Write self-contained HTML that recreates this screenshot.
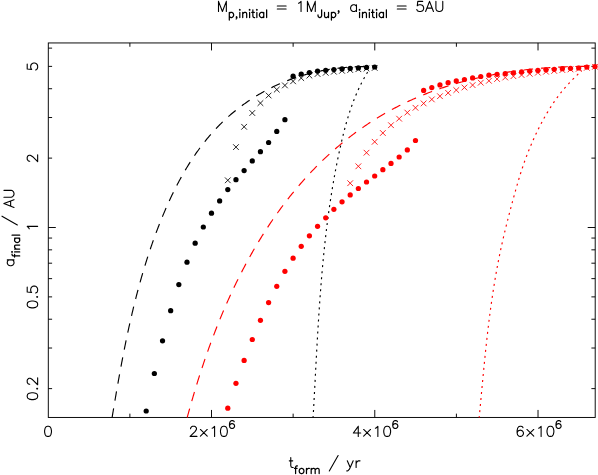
<!DOCTYPE html>
<html><head><meta charset="utf-8"><title>plot</title>
<style>html,body{margin:0;padding:0;background:#fff;overflow:hidden;font-family:"Liberation Sans",sans-serif}svg{display:block}.t{font-family:"Liberation Sans",sans-serif;font-size:14px;fill:#000;fill-opacity:0}</style></head><body>
<svg width="598" height="475" viewBox="0 0 598 475" role="img" aria-label="a_final / AU versus t_form / yr">
<rect x="0" y="0" width="598" height="475" fill="#fff"/>
<g stroke="#000" fill="none" stroke-width="0.95">
<rect x="48.3" y="42.95" width="546.9000000000001" height="374.5"/>
<path d="M129.88 417.45V413.65M129.88 42.95V46.75 M211.51 417.45V409.95M211.51 42.95V50.45 M293.14 417.45V413.65M293.14 42.95V46.75 M374.77 417.45V409.95M374.77 42.95V50.45 M456.40 417.45V413.65M456.40 42.95V46.75 M538.03 417.45V409.95M538.03 42.95V50.45 M48.3 388.61H52.099999999999994M595.2 388.61H591.4000000000001 M48.3 348.02H52.099999999999994M595.2 348.02H591.4000000000001 M48.3 319.23H52.099999999999994M595.2 319.23H591.4000000000001 M48.3 296.89H52.099999999999994M595.2 296.89H591.4000000000001 M48.3 278.64H52.099999999999994M595.2 278.64H591.4000000000001 M48.3 263.20H52.099999999999994M595.2 263.20H591.4000000000001 M48.3 249.84H52.099999999999994M595.2 249.84H591.4000000000001 M48.3 238.05H52.099999999999994M595.2 238.05H591.4000000000001 M48.3 227.50H55.8M595.2 227.50H587.7 M48.3 158.11H52.099999999999994M595.2 158.11H591.4000000000001 M48.3 117.52H52.099999999999994M595.2 117.52H591.4000000000001 M48.3 88.73H52.099999999999994M595.2 88.73H591.4000000000001 M48.3 66.39H52.099999999999994M595.2 66.39H591.4000000000001 M48.3 48.14H52.099999999999994M595.2 48.14H591.4000000000001" stroke-width="0.95"/>
</g>
<g fill="none" stroke-width="1.15" stroke-linecap="butt">
<path d="M112.10 417.50 L112.30 416.29 L112.50 415.09 L112.70 413.89 L112.90 412.68 L113.11 411.48 L113.31 410.27 L113.51 409.07 L113.71 407.86 L113.92 406.66 L114.12 405.46 L114.32 404.25 L114.53 403.05 L114.73 401.84 L114.94 400.64 L115.14 399.44 L115.35 398.23 L115.55 397.03 L115.76 395.83 L115.97 394.63 L116.17 393.42 L116.38 392.22 L116.59 391.02 L116.80 389.82 L117.01 388.62 L117.22 387.41 L117.43 386.21 L117.64 385.01 L117.85 383.81 L118.07 382.61 L118.28 381.41 L118.50 380.21 L118.71 379.01 L118.93 377.81 L119.14 376.61 L119.36 375.41 L119.58 374.21 L119.80 373.01 L120.02 371.81 L120.24 370.61 L120.46 369.41 L120.68 368.22 L120.90 367.02 L121.12 365.82 L121.35 364.62 L121.57 363.42 L121.80 362.23 L122.03 361.03 L122.26 359.83 L122.49 358.64 L122.72 357.44 L122.95 356.25 L123.18 355.05 L123.41 353.85 L123.65 352.66 L123.88 351.46 L124.12 350.27 L124.36 349.08 L124.60 347.88 L124.84 346.69 L125.08 345.49 L125.32 344.30 L125.56 343.11 L125.81 341.92 L126.05 340.72 L126.30 339.53 L126.55 338.34 L126.80 337.15 L127.05 335.96 L127.30 334.77 L127.56 333.58 L127.81 332.39 L128.07 331.20 L128.32 330.01 L128.58 328.82 L128.84 327.63 L129.11 326.44 L129.37 325.26 L129.63 324.07 L129.90 322.88 L130.17 321.69 L130.44 320.51 L130.71 319.32 L130.98 318.14 L131.25 316.95 L131.53 315.77 L131.81 314.58 L132.08 313.40 L132.36 312.21 L132.65 311.03 L132.93 309.85 L133.21 308.67 L133.50 307.48 L133.79 306.30 L134.08 305.12 L134.37 303.94 L134.66 302.76 L134.96 301.58 L135.26 300.40 L135.56 299.22 L135.86 298.04 L136.16 296.86 L136.46 295.68 L136.77 294.51 L137.08 293.33 L137.39 292.15 L137.70 290.98 L138.01 289.80 L138.33 288.63 L138.65 287.45 L138.97 286.28 L139.29 285.10 L139.61 283.93 L139.94 282.76 L140.27 281.58 L140.60 280.41 L140.93 279.24 L141.26 278.07 L141.60 276.90 L141.94 275.73 L142.28 274.56 L142.62 273.39 L142.96 272.22 L143.31 271.05 L143.66 269.89 L144.01 268.72 L144.36 267.55 L144.72 266.39 L145.08 265.22 L145.44 264.05 L145.80 262.89 L146.16 261.73 L146.53 260.56 L146.90 259.40 L147.27 258.24 L147.65 257.08 L148.02 255.91 L148.40 254.75 L148.78 253.59 L149.17 252.43 L149.56 251.28 L149.94 250.12 L150.34 248.96 L150.73 247.80 L151.13 246.65 L151.52 245.49 L151.93 244.33 L152.33 243.18 L152.74 242.02 L153.15 240.87 L153.56 239.72 L153.97 238.56 L154.39 237.41 L154.81 236.26 L155.23 235.11 L155.66 233.96 L156.09 232.81 L156.52 231.66 L156.95 230.51 L157.39 229.37 L157.83 228.22 L158.27 227.07 L158.71 225.93 L159.16 224.78 L159.61 223.64 L160.06 222.49 L160.52 221.35 L160.98 220.21 L161.44 219.07 L161.91 217.93 L162.37 216.79 L162.84 215.65 L163.32 214.51 L163.80 213.37 L164.28 212.24 L164.76 211.10 L165.25 209.97 L165.74 208.84 L166.23 207.71 L166.73 206.58 L167.23 205.45 L167.73 204.32 L168.24 203.20 L168.75 202.08 L169.26 200.95 L169.78 199.83 L170.30 198.72 L170.82 197.60 L171.35 196.49 L171.88 195.37 L172.41 194.26 L172.95 193.15 L173.49 192.05 L174.04 190.94 L174.58 189.84 L175.14 188.74 L175.69 187.64 L176.25 186.54 L176.82 185.45 L177.38 184.36 L177.96 183.27 L178.53 182.18 L179.11 181.10 L179.69 180.02 L180.28 178.94 L180.87 177.86 L181.47 176.79 L182.07 175.72 L182.67 174.65 L183.28 173.58 L183.89 172.52 L184.51 171.46 L185.12 170.40 L185.75 169.35 L186.38 168.30 L187.01 167.25 L187.65 166.21 L188.29 165.17 L188.93 164.13 L189.58 163.10 L190.24 162.07 L190.90 161.04 L191.56 160.01 L192.23 158.99 L192.90 157.98 L193.58 156.96 L194.26 155.95 L194.94 154.95 L195.63 153.95 L196.33 152.95 L197.03 151.95 L197.73 150.96 L198.44 149.98 L199.16 148.99 L199.88 148.01 L200.60 147.04 L201.33 146.07 L202.06 145.10 L202.80 144.14 L203.55 143.18 L204.29 142.23 L205.05 141.28 L205.81 140.34 L206.57 139.40 L207.34 138.46 L208.11 137.53 L208.89 136.61 L209.67 135.68 L210.46 134.77 L211.26 133.86 L212.06 132.95 L212.86 132.05 L213.67 131.15 L214.49 130.26 L215.31 129.37 L216.13 128.49 L216.97 127.61 L217.80 126.74 L218.64 125.87 L219.49 125.01 L220.35 124.16 L221.21 123.31 L222.07 122.46 L222.94 121.62 L223.82 120.79 L224.70 119.96 L225.58 119.14 L226.47 118.32 L227.37 117.51 L228.27 116.70 L229.18 115.90 L230.09 115.10 L231.01 114.31 L231.93 113.53 L232.86 112.75 L233.79 111.98 L234.73 111.21 L235.67 110.45 L236.62 109.70 L237.57 108.95 L238.53 108.21 L239.49 107.47 L240.46 106.74 L241.43 106.01 L242.40 105.29 L243.38 104.58 L244.37 103.87 L245.36 103.17 L246.35 102.47 L247.35 101.78 L248.35 101.10 L249.36 100.42 L250.37 99.75 L251.39 99.09 L252.41 98.43 L253.43 97.78 L254.46 97.13 L255.49 96.49 L256.53 95.86 L257.57 95.23 L258.61 94.61 L259.66 93.99 L260.71 93.39 L261.77 92.79 L262.83 92.19 L263.89 91.60 L264.96 91.02 L266.03 90.44 L267.10 89.88 L268.18 89.31 L269.26 88.76 L270.34 88.21 L271.43 87.67 L272.52 87.13 L273.62 86.60 L274.72 86.08 L275.82 85.56 L276.93 85.05 L278.03 84.55 L279.15 84.06 L280.26 83.57 L281.38 83.09 L282.50 82.61 L283.62 82.15 L284.75 81.69 L285.88 81.23 L287.01 80.79 L288.15 80.35 L289.28 79.91 L290.43 79.49 L291.57 79.07 L292.72 78.66 L293.86 78.26 L295.02 77.86 L296.17 77.47 L297.33 77.09 L298.49 76.71 L299.65 76.34 L300.81 75.98 L301.98 75.63 L303.15 75.28 L304.32 74.94 L305.49 74.61 L306.67 74.28 L307.84 73.96 L309.02 73.65 L310.20 73.34 L311.39 73.04 L312.57 72.75 L313.76 72.47 L314.95 72.19 L316.14 71.92 L317.33 71.66 L318.53 71.40 L319.73 71.15 L320.92 70.90 L322.12 70.67 L323.33 70.44 L324.53 70.21 L325.73 70.00 L326.94 69.79 L328.15 69.59 L329.36 69.39 L330.57 69.20 L331.78 69.02 L332.99 68.84 L334.21 68.67 L335.42 68.51 L336.64 68.36 L337.86 68.21 L339.08 68.07 L340.29 67.93 L341.52 67.80 L342.74 67.68 L343.96 67.56 L345.18 67.46 L346.41 67.35 L347.63 67.26 L348.86 67.17 L350.09 67.09 L351.31 67.01 L352.54 66.94 L353.77 66.88 L355.00 66.82 L356.23 66.77 L357.46 66.73 L358.69 66.69 L359.92 66.66 L361.15 66.64 L362.38 66.62 L363.61 66.61 L364.84 66.61 L366.08 66.61 L367.31 66.62 L368.54 66.63 L369.77 66.65 L371.01 66.68 L372.24 66.71 L373.47 66.76 L374.70 66.80" stroke="#000" stroke-dasharray="9.5 7.8" stroke-dashoffset="0.25"/>
<path d="M187.20 417.50 L187.58 416.10 L187.96 414.69 L188.35 413.29 L188.73 411.89 L189.12 410.48 L189.52 409.08 L189.91 407.67 L190.31 406.27 L190.70 404.86 L191.11 403.45 L191.51 402.05 L191.91 400.64 L192.32 399.23 L192.73 397.83 L193.14 396.42 L193.56 395.01 L193.98 393.61 L194.39 392.20 L194.82 390.79 L195.24 389.39 L195.67 387.98 L196.10 386.57 L196.53 385.16 L196.96 383.76 L197.40 382.35 L197.84 380.94 L198.28 379.54 L198.72 378.13 L199.17 376.72 L199.62 375.32 L200.07 373.91 L200.53 372.51 L200.98 371.10 L201.44 369.69 L201.91 368.29 L202.37 366.89 L202.84 365.48 L203.31 364.08 L203.78 362.67 L204.26 361.27 L204.73 359.87 L205.22 358.47 L205.70 357.07 L206.19 355.67 L206.67 354.27 L207.17 352.87 L207.66 351.47 L208.16 350.07 L208.66 348.67 L209.16 347.27 L209.67 345.88 L210.18 344.48 L210.69 343.09 L211.20 341.69 L211.72 340.30 L212.24 338.91 L212.76 337.52 L213.29 336.13 L213.82 334.74 L214.35 333.35 L214.88 331.96 L215.42 330.57 L215.96 329.19 L216.51 327.80 L217.05 326.42 L217.60 325.04 L218.16 323.65 L218.71 322.27 L219.27 320.90 L219.83 319.52 L220.40 318.14 L220.97 316.76 L221.54 315.39 L222.11 314.02 L222.69 312.64 L223.27 311.27 L223.86 309.90 L224.44 308.54 L225.03 307.17 L225.63 305.80 L226.22 304.44 L226.82 303.08 L227.43 301.72 L228.03 300.36 L228.64 299.00 L229.26 297.64 L229.87 296.29 L230.49 294.94 L231.11 293.58 L231.74 292.23 L232.37 290.89 L233.00 289.54 L233.64 288.19 L234.28 286.85 L234.92 285.51 L235.57 284.17 L236.22 282.83 L236.87 281.50 L237.53 280.16 L238.19 278.83 L238.85 277.50 L239.52 276.17 L240.19 274.84 L240.87 273.52 L241.54 272.20 L242.23 270.88 L242.91 269.56 L243.60 268.24 L244.29 266.93 L244.99 265.61 L245.69 264.30 L246.39 263.00 L247.10 261.69 L247.81 260.39 L248.52 259.09 L249.24 257.79 L249.96 256.49 L250.68 255.20 L251.41 253.90 L252.15 252.61 L252.88 251.33 L253.62 250.04 L254.37 248.76 L255.11 247.48 L255.87 246.20 L256.62 244.93 L257.38 243.65 L258.14 242.38 L258.91 241.12 L259.68 239.85 L260.45 238.59 L261.23 237.33 L262.01 236.07 L262.80 234.82 L263.59 233.56 L264.38 232.32 L265.18 231.07 L265.98 229.83 L266.79 228.59 L267.60 227.35 L268.41 226.11 L269.23 224.88 L270.05 223.65 L270.88 222.43 L271.71 221.20 L272.54 219.98 L273.38 218.76 L274.22 217.55 L275.07 216.34 L275.92 215.13 L276.78 213.92 L277.63 212.72 L278.50 211.52 L279.36 210.33 L280.24 209.14 L281.11 207.95 L281.99 206.76 L282.88 205.58 L283.76 204.40 L284.66 203.22 L285.55 202.05 L286.45 200.88 L287.36 199.71 L288.27 198.55 L289.18 197.39 L290.10 196.23 L291.02 195.08 L291.95 193.93 L292.88 192.79 L293.82 191.64 L294.76 190.51 L295.70 189.37 L296.65 188.24 L297.60 187.11 L298.56 185.99 L299.52 184.87 L300.49 183.75 L301.46 182.64 L302.44 181.53 L303.42 180.42 L304.40 179.32 L305.39 178.22 L306.39 177.13 L307.38 176.04 L308.39 174.96 L309.39 173.87 L310.40 172.80 L311.42 171.72 L312.44 170.65 L313.46 169.59 L314.49 168.53 L315.53 167.47 L316.56 166.42 L317.61 165.37 L318.65 164.33 L319.70 163.29 L320.76 162.25 L321.82 161.22 L322.88 160.20 L323.95 159.17 L325.02 158.16 L326.10 157.15 L327.18 156.14 L328.26 155.14 L329.35 154.14 L330.44 153.15 L331.54 152.16 L332.64 151.17 L333.75 150.20 L334.86 149.22 L335.98 148.25 L337.09 147.29 L338.22 146.33 L339.35 145.38 L340.48 144.43 L341.61 143.49 L342.75 142.55 L343.90 141.62 L345.04 140.69 L346.20 139.77 L347.35 138.85 L348.51 137.94 L349.68 137.03 L350.85 136.13 L352.02 135.24 L353.20 134.35 L354.38 133.46 L355.56 132.58 L356.75 131.71 L357.95 130.85 L359.14 129.98 L360.35 129.13 L361.55 128.28 L362.76 127.44 L363.97 126.60 L365.19 125.77 L366.41 124.94 L367.64 124.12 L368.87 123.31 L370.10 122.50 L371.34 121.70 L372.58 120.90 L373.83 120.11 L375.08 119.33 L376.33 118.55 L377.59 117.78 L378.85 117.01 L380.11 116.25 L381.38 115.50 L382.65 114.75 L383.93 114.01 L385.21 113.28 L386.49 112.55 L387.78 111.83 L389.07 111.11 L390.36 110.40 L391.66 109.70 L392.96 109.00 L394.26 108.31 L395.57 107.63 L396.88 106.95 L398.19 106.28 L399.51 105.61 L400.83 104.95 L402.15 104.30 L403.48 103.65 L404.81 103.01 L406.14 102.38 L407.47 101.75 L408.81 101.13 L410.15 100.51 L411.50 99.90 L412.84 99.30 L414.19 98.70 L415.55 98.11 L416.90 97.53 L418.26 96.95 L419.62 96.38 L420.98 95.81 L422.35 95.25 L423.72 94.70 L425.09 94.15 L426.46 93.61 L427.84 93.08 L429.22 92.55 L430.60 92.03 L431.98 91.51 L433.37 91.00 L434.76 90.50 L436.15 90.00 L437.54 89.50 L438.94 89.02 L440.34 88.54 L441.74 88.06 L443.14 87.59 L444.54 87.13 L445.95 86.67 L447.36 86.22 L448.77 85.77 L450.18 85.33 L451.60 84.90 L453.01 84.47 L454.43 84.05 L455.85 83.63 L457.28 83.22 L458.70 82.81 L460.13 82.41 L461.56 82.02 L462.99 81.63 L464.42 81.24 L465.85 80.86 L467.28 80.49 L468.72 80.12 L470.16 79.76 L471.60 79.40 L473.04 79.05 L474.48 78.70 L475.93 78.36 L477.37 78.03 L478.82 77.70 L480.27 77.37 L481.72 77.05 L483.17 76.74 L484.62 76.43 L486.08 76.12 L487.53 75.83 L488.99 75.53 L490.45 75.24 L491.90 74.96 L493.36 74.68 L494.82 74.41 L496.29 74.14 L497.75 73.87 L499.21 73.62 L500.68 73.36 L502.14 73.11 L503.61 72.87 L505.08 72.63 L506.55 72.40 L508.01 72.17 L509.48 71.94 L510.95 71.72 L512.43 71.51 L513.90 71.30 L515.37 71.09 L516.84 70.89 L518.32 70.70 L519.79 70.50 L521.27 70.32 L522.74 70.14 L524.22 69.96 L525.69 69.78 L527.17 69.62 L528.65 69.45 L530.13 69.29 L531.60 69.14 L533.08 68.99 L534.56 68.84 L536.04 68.70 L537.52 68.56 L539.00 68.43 L540.48 68.30 L541.95 68.18 L543.43 68.06 L544.91 67.94 L546.39 67.83 L547.87 67.72 L549.35 67.62 L550.83 67.52 L552.31 67.43 L553.79 67.34 L555.26 67.25 L556.74 67.17 L558.22 67.09 L559.70 67.02 L561.18 66.95 L562.65 66.88 L564.13 66.82 L565.61 66.76 L567.08 66.71 L568.56 66.66 L570.03 66.61 L571.51 66.57 L572.98 66.53 L574.45 66.49 L575.93 66.46 L577.40 66.44 L578.87 66.41 L580.34 66.39 L581.81 66.38 L583.28 66.37 L584.75 66.36 L586.21 66.35 L587.68 66.35 L589.15 66.35 L590.61 66.36 L592.07 66.37 L593.54 66.38 L595.00 66.40" stroke="#f00" stroke-dasharray="9.5 7.8" stroke-dashoffset="0.25"/>
<path d="M313.10 417.50 L313.15 416.62 L313.20 415.74 L313.25 414.86 L313.30 413.97 L313.35 413.09 L313.40 412.21 L313.45 411.33 L313.50 410.45 L313.55 409.56 L313.60 408.68 L313.65 407.80 L313.70 406.91 L313.75 406.03 L313.79 405.15 L313.84 404.26 L313.89 403.38 L313.94 402.50 L313.99 401.61 L314.04 400.73 L314.08 399.84 L314.13 398.96 L314.18 398.08 L314.23 397.19 L314.27 396.31 L314.32 395.42 L314.37 394.54 L314.42 393.65 L314.46 392.76 L314.51 391.88 L314.56 390.99 L314.61 390.11 L314.65 389.22 L314.70 388.34 L314.75 387.45 L314.79 386.56 L314.84 385.68 L314.89 384.79 L314.93 383.90 L314.98 383.02 L315.03 382.13 L315.08 381.24 L315.12 380.35 L315.17 379.47 L315.22 378.58 L315.26 377.69 L315.31 376.80 L315.36 375.92 L315.40 375.03 L315.45 374.14 L315.50 373.25 L315.54 372.36 L315.59 371.47 L315.64 370.59 L315.69 369.70 L315.73 368.81 L315.78 367.92 L315.83 367.03 L315.87 366.14 L315.92 365.25 L315.97 364.36 L316.02 363.47 L316.06 362.58 L316.11 361.69 L316.16 360.80 L316.21 359.91 L316.26 359.02 L316.30 358.13 L316.35 357.24 L316.40 356.35 L316.45 355.46 L316.50 354.57 L316.55 353.68 L316.60 352.79 L316.64 351.90 L316.69 351.01 L316.74 350.12 L316.79 349.23 L316.84 348.34 L316.89 347.45 L316.94 346.56 L316.99 345.67 L317.04 344.78 L317.09 343.89 L317.14 342.99 L317.19 342.10 L317.24 341.21 L317.29 340.32 L317.35 339.43 L317.40 338.54 L317.45 337.65 L317.50 336.76 L317.55 335.86 L317.60 334.97 L317.66 334.08 L317.71 333.19 L317.76 332.30 L317.81 331.41 L317.87 330.51 L317.92 329.62 L317.98 328.73 L318.03 327.84 L318.08 326.95 L318.14 326.05 L318.19 325.16 L318.25 324.27 L318.30 323.38 L318.36 322.49 L318.41 321.59 L318.47 320.70 L318.53 319.81 L318.58 318.92 L318.64 318.03 L318.70 317.13 L318.76 316.24 L318.81 315.35 L318.87 314.46 L318.93 313.56 L318.99 312.67 L319.05 311.78 L319.11 310.89 L319.17 310.00 L319.23 309.10 L319.29 308.21 L319.35 307.32 L319.41 306.43 L319.47 305.53 L319.53 304.64 L319.60 303.75 L319.66 302.86 L319.72 301.97 L319.78 301.07 L319.85 300.18 L319.91 299.29 L319.98 298.40 L320.04 297.50 L320.11 296.61 L320.17 295.72 L320.24 294.83 L320.30 293.94 L320.37 293.04 L320.44 292.15 L320.51 291.26 L320.57 290.37 L320.64 289.48 L320.71 288.58 L320.78 287.69 L320.85 286.80 L320.92 285.91 L320.99 285.02 L321.06 284.13 L321.14 283.23 L321.21 282.34 L321.28 281.45 L321.35 280.56 L321.43 279.67 L321.50 278.78 L321.57 277.89 L321.65 276.99 L321.73 276.10 L321.80 275.21 L321.88 274.32 L321.95 273.43 L322.03 272.54 L322.11 271.65 L322.19 270.76 L322.27 269.87 L322.35 268.98 L322.43 268.08 L322.51 267.19 L322.59 266.30 L322.67 265.41 L322.75 264.52 L322.84 263.63 L322.92 262.74 L323.00 261.85 L323.09 260.96 L323.17 260.07 L323.26 259.18 L323.34 258.29 L323.43 257.40 L323.52 256.51 L323.61 255.62 L323.69 254.73 L323.78 253.84 L323.87 252.96 L323.96 252.07 L324.05 251.18 L324.15 250.29 L324.24 249.40 L324.33 248.51 L324.42 247.62 L324.52 246.73 L324.61 245.85 L324.71 244.96 L324.80 244.07 L324.90 243.18 L325.00 242.29 L325.09 241.40 L325.19 240.52 L325.29 239.63 L325.39 238.74 L325.49 237.85 L325.59 236.97 L325.70 236.08 L325.80 235.19 L325.90 234.31 L326.01 233.42 L326.11 232.53 L326.22 231.65 L326.32 230.76 L326.43 229.87 L326.54 228.99 L326.64 228.10 L326.75 227.21 L326.86 226.33 L326.97 225.44 L327.08 224.56 L327.20 223.67 L327.31 222.79 L327.42 221.90 L327.54 221.02 L327.65 220.13 L327.77 219.25 L327.88 218.36 L328.00 217.48 L328.12 216.60 L328.24 215.71 L328.36 214.83 L328.48 213.94 L328.60 213.06 L328.72 212.18 L328.84 211.29 L328.97 210.41 L329.09 209.53 L329.21 208.65 L329.34 207.76 L329.47 206.88 L329.60 206.00 L329.72 205.12 L329.85 204.24 L329.98 203.35 L330.11 202.47 L330.25 201.59 L330.38 200.71 L330.51 199.83 L330.65 198.95 L330.78 198.07 L330.92 197.19 L331.05 196.31 L331.19 195.43 L331.33 194.55 L331.47 193.67 L331.61 192.79 L331.75 191.91 L331.89 191.03 L332.04 190.15 L332.18 189.27 L332.33 188.40 L332.47 187.52 L332.62 186.64 L332.77 185.76 L332.92 184.89 L333.06 184.01 L333.22 183.13 L333.37 182.25 L333.52 181.38 L333.67 180.50 L333.83 179.62 L333.98 178.75 L334.14 177.87 L334.30 177.00 L334.45 176.12 L334.61 175.25 L334.77 174.37 L334.93 173.50 L335.10 172.62 L335.26 171.75 L335.42 170.88 L335.59 170.00 L335.75 169.13 L335.92 168.26 L336.09 167.38 L336.26 166.51 L336.43 165.64 L336.60 164.77 L336.77 163.89 L336.94 163.02 L337.12 162.15 L337.29 161.28 L337.47 160.41 L337.65 159.54 L337.83 158.67 L338.01 157.80 L338.19 156.93 L338.37 156.06 L338.55 155.19 L338.73 154.32 L338.92 153.45 L339.11 152.58 L339.29 151.71 L339.48 150.84 L339.67 149.98 L339.86 149.11 L340.05 148.24 L340.24 147.38 L340.44 146.51 L340.63 145.64 L340.83 144.78 L341.02 143.91 L341.22 143.04 L341.42 142.18 L341.62 141.32 L341.83 140.45 L342.03 139.59 L342.24 138.72 L342.44 137.86 L342.65 137.00 L342.86 136.13 L343.07 135.27 L343.28 134.41 L343.50 133.55 L343.72 132.69 L343.93 131.83 L344.16 130.97 L344.38 130.11 L344.60 129.26 L344.83 128.40 L345.06 127.54 L345.29 126.69 L345.52 125.83 L345.75 124.98 L345.99 124.12 L346.23 123.27 L346.47 122.42 L346.72 121.56 L346.96 120.71 L347.21 119.86 L347.46 119.01 L347.72 118.16 L347.97 117.32 L348.23 116.47 L348.49 115.62 L348.76 114.78 L349.03 113.93 L349.30 113.09 L349.57 112.25 L349.84 111.41 L350.12 110.57 L350.40 109.73 L350.69 108.89 L350.98 108.05 L351.27 107.22 L351.56 106.38 L351.86 105.55 L352.16 104.71 L352.46 103.88 L352.77 103.05 L353.08 102.22 L353.40 101.39 L353.71 100.56 L354.04 99.74 L354.36 98.91 L354.69 98.09 L355.02 97.27 L355.36 96.45 L355.70 95.63 L356.04 94.81 L356.39 93.99 L356.74 93.17 L357.09 92.36 L357.45 91.55 L357.81 90.73 L358.18 89.92 L358.55 89.11 L358.93 88.31 L359.31 87.50 L359.69 86.70 L360.08 85.89 L360.47 85.09 L360.87 84.29 L361.27 83.49 L361.67 82.69 L362.08 81.90 L362.50 81.10 L362.92 80.31 L363.34 79.52 L363.77 78.73 L364.21 77.95 L364.64 77.16 L365.09 76.38 L365.53 75.59 L365.99 74.81 L366.44 74.03 L366.91 73.26 L367.38 72.48 L367.85 71.71 L368.33 70.94 L368.81 70.17 L369.30 69.40" stroke="#000" stroke-dasharray="2 4.05" stroke-dashoffset="0.6"/>
<path d="M479.20 417.50 L479.29 416.59 L479.37 415.68 L479.46 414.77 L479.55 413.86 L479.63 412.94 L479.72 412.03 L479.80 411.12 L479.89 410.21 L479.98 409.29 L480.06 408.38 L480.15 407.47 L480.23 406.55 L480.32 405.64 L480.40 404.73 L480.49 403.81 L480.57 402.90 L480.66 401.98 L480.74 401.07 L480.83 400.15 L480.92 399.24 L481.00 398.32 L481.09 397.40 L481.17 396.49 L481.26 395.57 L481.34 394.66 L481.43 393.74 L481.51 392.82 L481.60 391.90 L481.68 390.99 L481.77 390.07 L481.85 389.15 L481.94 388.23 L482.03 387.32 L482.11 386.40 L482.20 385.48 L482.28 384.56 L482.37 383.64 L482.46 382.72 L482.54 381.80 L482.63 380.88 L482.72 379.96 L482.81 379.04 L482.89 378.12 L482.98 377.21 L483.07 376.28 L483.16 375.36 L483.24 374.44 L483.33 373.52 L483.42 372.60 L483.51 371.68 L483.60 370.76 L483.69 369.84 L483.78 368.92 L483.87 368.00 L483.96 367.08 L484.05 366.16 L484.14 365.23 L484.23 364.31 L484.32 363.39 L484.41 362.47 L484.51 361.55 L484.60 360.63 L484.69 359.70 L484.78 358.78 L484.88 357.86 L484.97 356.94 L485.06 356.01 L485.16 355.09 L485.25 354.17 L485.35 353.25 L485.45 352.32 L485.54 351.40 L485.64 350.48 L485.74 349.56 L485.83 348.63 L485.93 347.71 L486.03 346.79 L486.13 345.86 L486.23 344.94 L486.33 344.02 L486.43 343.09 L486.53 342.17 L486.63 341.25 L486.73 340.33 L486.83 339.40 L486.94 338.48 L487.04 337.56 L487.15 336.63 L487.25 335.71 L487.35 334.79 L487.46 333.86 L487.57 332.94 L487.67 332.02 L487.78 331.09 L487.89 330.17 L488.00 329.25 L488.11 328.32 L488.22 327.40 L488.33 326.48 L488.44 325.55 L488.55 324.63 L488.66 323.71 L488.78 322.79 L488.89 321.86 L489.01 320.94 L489.12 320.02 L489.24 319.09 L489.35 318.17 L489.47 317.25 L489.59 316.33 L489.71 315.40 L489.83 314.48 L489.95 313.56 L490.07 312.64 L490.19 311.72 L490.32 310.79 L490.44 309.87 L490.56 308.95 L490.69 308.03 L490.82 307.11 L490.94 306.18 L491.07 305.26 L491.20 304.34 L491.33 303.42 L491.46 302.50 L491.59 301.58 L491.72 300.66 L491.85 299.74 L491.99 298.82 L492.12 297.90 L492.26 296.98 L492.39 296.05 L492.53 295.13 L492.67 294.21 L492.81 293.29 L492.95 292.38 L493.09 291.46 L493.23 290.54 L493.38 289.62 L493.52 288.70 L493.67 287.78 L493.81 286.86 L493.96 285.94 L494.11 285.02 L494.26 284.11 L494.41 283.19 L494.56 282.27 L494.71 281.35 L494.86 280.43 L495.02 279.52 L495.17 278.60 L495.33 277.68 L495.49 276.77 L495.65 275.85 L495.81 274.93 L495.97 274.02 L496.13 273.10 L496.29 272.19 L496.46 271.27 L496.62 270.36 L496.79 269.44 L496.96 268.53 L497.12 267.61 L497.29 266.70 L497.47 265.78 L497.64 264.87 L497.81 263.96 L497.99 263.04 L498.16 262.13 L498.34 261.22 L498.52 260.30 L498.70 259.39 L498.88 258.48 L499.06 257.57 L499.25 256.66 L499.43 255.75 L499.62 254.84 L499.80 253.92 L499.99 253.01 L500.18 252.10 L500.37 251.19 L500.57 250.29 L500.76 249.38 L500.96 248.47 L501.15 247.56 L501.35 246.65 L501.55 245.74 L501.75 244.84 L501.95 243.93 L502.15 243.02 L502.36 242.11 L502.56 241.21 L502.77 240.30 L502.98 239.40 L503.18 238.49 L503.39 237.59 L503.60 236.68 L503.82 235.78 L504.03 234.87 L504.24 233.97 L504.46 233.07 L504.67 232.16 L504.89 231.26 L505.11 230.36 L505.32 229.46 L505.54 228.56 L505.76 227.66 L505.99 226.76 L506.21 225.86 L506.43 224.96 L506.65 224.06 L506.88 223.16 L507.10 222.26 L507.33 221.36 L507.56 220.46 L507.79 219.57 L508.01 218.67 L508.24 217.77 L508.47 216.88 L508.70 215.98 L508.94 215.08 L509.17 214.19 L509.40 213.29 L509.63 212.40 L509.87 211.51 L510.10 210.61 L510.34 209.72 L510.57 208.83 L510.81 207.94 L511.05 207.05 L511.29 206.15 L511.52 205.26 L511.76 204.37 L512.00 203.48 L512.24 202.60 L512.48 201.71 L512.72 200.82 L512.96 199.93 L513.21 199.04 L513.45 198.16 L513.69 197.27 L513.93 196.38 L514.17 195.50 L514.42 194.61 L514.66 193.73 L514.91 192.85 L515.15 191.96 L515.40 191.08 L515.64 190.20 L515.89 189.32 L516.14 188.44 L516.39 187.56 L516.64 186.67 L516.89 185.80 L517.14 184.92 L517.39 184.04 L517.65 183.16 L517.90 182.28 L518.16 181.41 L518.42 180.53 L518.68 179.65 L518.94 178.78 L519.20 177.90 L519.47 177.03 L519.73 176.15 L520.00 175.28 L520.27 174.41 L520.55 173.54 L520.82 172.67 L521.10 171.80 L521.38 170.93 L521.66 170.06 L521.95 169.19 L522.23 168.32 L522.52 167.45 L522.81 166.58 L523.11 165.72 L523.41 164.85 L523.71 163.99 L524.01 163.12 L524.31 162.26 L524.62 161.39 L524.93 160.53 L525.25 159.67 L525.56 158.81 L525.88 157.94 L526.20 157.08 L526.53 156.22 L526.85 155.37 L527.18 154.51 L527.51 153.65 L527.85 152.79 L528.19 151.93 L528.53 151.08 L528.87 150.22 L529.21 149.37 L529.56 148.52 L529.91 147.66 L530.27 146.81 L530.62 145.96 L530.98 145.11 L531.35 144.26 L531.71 143.41 L532.08 142.56 L532.45 141.71 L532.82 140.86 L533.20 140.01 L533.58 139.17 L533.96 138.32 L534.34 137.48 L534.73 136.63 L535.12 135.79 L535.51 134.95 L535.91 134.10 L536.31 133.26 L536.71 132.42 L537.11 131.58 L537.52 130.74 L537.93 129.90 L538.34 129.07 L538.76 128.23 L539.18 127.40 L539.60 126.56 L540.02 125.73 L540.45 124.90 L540.88 124.07 L541.32 123.24 L541.75 122.41 L542.19 121.59 L542.64 120.76 L543.08 119.94 L543.53 119.12 L543.99 118.30 L544.44 117.49 L544.90 116.67 L545.37 115.86 L545.83 115.05 L546.30 114.24 L546.78 113.43 L547.25 112.63 L547.74 111.83 L548.22 111.03 L548.71 110.23 L549.20 109.43 L549.69 108.64 L550.19 107.85 L550.69 107.07 L551.20 106.28 L551.70 105.50 L552.22 104.72 L552.73 103.94 L553.25 103.17 L553.78 102.40 L554.30 101.64 L554.84 100.87 L555.37 100.11 L555.91 99.35 L556.45 98.60 L557.00 97.85 L557.55 97.10 L558.10 96.36 L558.66 95.62 L559.22 94.88 L559.79 94.15 L560.36 93.42 L560.94 92.70 L561.51 91.98 L562.10 91.26 L562.68 90.55 L563.27 89.84 L563.87 89.13 L564.47 88.43 L565.07 87.73 L565.67 87.04 L566.28 86.35 L566.90 85.66 L567.51 84.97 L568.13 84.29 L568.76 83.61 L569.38 82.94 L570.01 82.27 L570.64 81.60 L571.28 80.93 L571.92 80.27 L572.56 79.61 L573.20 78.95 L573.85 78.29 L574.50 77.64 L575.15 76.99 L575.81 76.34 L576.46 75.69 L577.12 75.05 L577.79 74.41 L578.45 73.77 L579.12 73.13 L579.78 72.50 L580.45 71.86 L581.13 71.23 L581.80 70.60" stroke="#f00" stroke-dasharray="2 4.05" stroke-dashoffset="0.6"/>
</g>
<g fill="#000">
<circle cx="146.20" cy="411.00" r="2.62"/>
<circle cx="154.36" cy="373.50" r="2.62"/>
<circle cx="162.52" cy="340.80" r="2.62"/>
<circle cx="170.68" cy="310.70" r="2.62"/>
<circle cx="178.84" cy="284.60" r="2.62"/>
<circle cx="187.00" cy="262.20" r="2.62"/>
<circle cx="195.16" cy="243.20" r="2.62"/>
<circle cx="203.32" cy="227.00" r="2.62"/>
<circle cx="211.48" cy="213.20" r="2.62"/>
<circle cx="219.64" cy="200.90" r="2.62"/>
<circle cx="227.80" cy="189.60" r="2.62"/>
<circle cx="235.96" cy="179.70" r="2.62"/>
<circle cx="244.12" cy="170.60" r="2.62"/>
<circle cx="252.28" cy="160.90" r="2.62"/>
<circle cx="260.44" cy="151.70" r="2.62"/>
<circle cx="268.60" cy="142.50" r="2.62"/>
<circle cx="276.76" cy="131.40" r="2.62"/>
<circle cx="284.92" cy="119.70" r="2.62"/>
<circle cx="293.08" cy="76.20" r="2.62"/>
<circle cx="301.24" cy="74.10" r="2.62"/>
<circle cx="309.40" cy="72.50" r="2.62"/>
<circle cx="317.56" cy="71.10" r="2.62"/>
<circle cx="325.72" cy="70.30" r="2.62"/>
<circle cx="333.88" cy="69.60" r="2.62"/>
<circle cx="342.04" cy="68.90" r="2.62"/>
<circle cx="350.20" cy="68.40" r="2.62"/>
<circle cx="358.36" cy="67.90" r="2.62"/>
<circle cx="366.52" cy="67.40" r="2.62"/>
<circle cx="374.68" cy="67.00" r="2.62"/>
</g>
<g fill="#f00">
<circle cx="227.80" cy="408.20" r="2.62"/>
<circle cx="235.96" cy="383.30" r="2.62"/>
<circle cx="244.12" cy="360.40" r="2.62"/>
<circle cx="252.28" cy="339.50" r="2.62"/>
<circle cx="260.44" cy="320.30" r="2.62"/>
<circle cx="268.60" cy="302.60" r="2.62"/>
<circle cx="276.76" cy="286.30" r="2.62"/>
<circle cx="284.92" cy="271.30" r="2.62"/>
<circle cx="293.08" cy="258.20" r="2.62"/>
<circle cx="301.24" cy="246.30" r="2.62"/>
<circle cx="309.40" cy="235.80" r="2.62"/>
<circle cx="317.56" cy="226.30" r="2.62"/>
<circle cx="325.72" cy="217.80" r="2.62"/>
<circle cx="333.88" cy="209.30" r="2.62"/>
<circle cx="342.04" cy="201.80" r="2.62"/>
<circle cx="350.20" cy="194.90" r="2.62"/>
<circle cx="358.36" cy="188.50" r="2.62"/>
<circle cx="366.52" cy="182.00" r="2.62"/>
<circle cx="374.68" cy="176.00" r="2.62"/>
<circle cx="382.84" cy="169.70" r="2.62"/>
<circle cx="391.00" cy="163.40" r="2.62"/>
<circle cx="399.16" cy="157.00" r="2.62"/>
<circle cx="407.32" cy="149.90" r="2.62"/>
<circle cx="415.48" cy="140.50" r="2.62"/>
<circle cx="423.64" cy="90.40" r="2.62"/>
<circle cx="431.80" cy="87.60" r="2.62"/>
<circle cx="439.96" cy="84.90" r="2.62"/>
<circle cx="448.12" cy="82.70" r="2.62"/>
<circle cx="456.28" cy="80.90" r="2.62"/>
<circle cx="464.44" cy="79.50" r="2.62"/>
<circle cx="472.60" cy="77.90" r="2.62"/>
<circle cx="480.76" cy="76.50" r="2.62"/>
<circle cx="488.92" cy="75.20" r="2.62"/>
<circle cx="497.08" cy="74.30" r="2.62"/>
<circle cx="505.24" cy="73.50" r="2.62"/>
<circle cx="513.40" cy="72.80" r="2.62"/>
<circle cx="521.56" cy="71.90" r="2.62"/>
<circle cx="529.72" cy="71.10" r="2.62"/>
<circle cx="537.88" cy="70.40" r="2.62"/>
<circle cx="546.04" cy="69.80" r="2.62"/>
<circle cx="554.20" cy="69.30" r="2.62"/>
<circle cx="562.36" cy="68.70" r="2.62"/>
<circle cx="570.52" cy="68.30" r="2.62"/>
<circle cx="578.68" cy="68.00" r="2.62"/>
<circle cx="586.84" cy="67.10" r="2.62"/>
<circle cx="595.00" cy="66.50" r="2.62"/>
</g>
<path d="M224.95 177.45L230.65 183.15M224.95 183.15L230.65 177.45 M233.11 144.25L238.81 149.95M233.11 149.95L238.81 144.25 M241.27 123.95L246.97 129.65M241.27 129.65L246.97 123.95 M249.43 110.15L255.13 115.85M249.43 115.85L255.13 110.15 M257.59 100.25L263.29 105.95M257.59 105.95L263.29 100.25 M265.75 92.65L271.45 98.35M265.75 98.35L271.45 92.65 M273.91 86.75L279.61 92.45M273.91 92.45L279.61 86.75 M282.07 82.55L287.77 88.25M282.07 88.25L287.77 82.55 M290.23 78.45L295.93 84.15M290.23 84.15L295.93 78.45 M298.39 75.25L304.09 80.95M298.39 80.95L304.09 75.25 M306.55 72.75L312.25 78.45M306.55 78.45L312.25 72.75 M314.71 71.15L320.41 76.85M314.71 76.85L320.41 71.15 M322.87 69.95L328.57 75.65M322.87 75.65L328.57 69.95 M331.03 68.85L336.73 74.55M331.03 74.55L336.73 68.85 M339.19 67.95L344.89 73.65M339.19 73.65L344.89 67.95 M347.35 67.15L353.05 72.85M347.35 72.85L353.05 67.15 M355.51 66.35L361.21 72.05M355.51 72.05L361.21 66.35 M363.67 65.75L369.37 71.45M363.67 71.45L369.37 65.75 M371.83 65.05L377.53 70.75M371.83 70.75L377.53 65.05" stroke="#000" stroke-width="0.85" fill="none"/>
<path d="M347.35 180.35L353.05 186.05M347.35 186.05L353.05 180.35 M355.51 163.45L361.21 169.15M355.51 169.15L361.21 163.45 M363.67 149.85L369.37 155.55M363.67 155.55L369.37 149.85 M371.83 138.95L377.53 144.65M371.83 144.65L377.53 138.95 M379.99 130.15L385.69 135.85M379.99 135.85L385.69 130.15 M388.15 122.35L393.85 128.05M388.15 128.05L393.85 122.35 M396.31 115.85L402.01 121.55M396.31 121.55L402.01 115.85 M404.47 109.75L410.17 115.45M404.47 115.45L410.17 109.75 M412.63 104.95L418.33 110.65M412.63 110.65L418.33 104.95 M420.79 100.55L426.49 106.25M420.79 106.25L426.49 100.55 M428.95 96.55L434.65 102.25M428.95 102.25L434.65 96.55 M437.11 93.35L442.81 99.05M437.11 99.05L442.81 93.35 M445.27 90.05L450.97 95.75M445.27 95.75L450.97 90.05 M453.43 87.25L459.13 92.95M453.43 92.95L459.13 87.25 M461.59 84.65L467.29 90.35M461.59 90.35L467.29 84.65 M469.75 82.25L475.45 87.95M469.75 87.95L475.45 82.25 M477.91 79.85L483.61 85.55M477.91 85.55L483.61 79.85 M486.07 77.95L491.77 83.65M486.07 83.65L491.77 77.95 M494.23 76.15L499.93 81.85M494.23 81.85L499.93 76.15 M502.39 74.65L508.09 80.35M502.39 80.35L508.09 74.65 M510.55 73.35L516.25 79.05M510.55 79.05L516.25 73.35 M518.71 72.15L524.41 77.85M518.71 77.85L524.41 72.15 M526.87 70.95L532.57 76.65M526.87 76.65L532.57 70.95 M535.03 69.85L540.73 75.55M535.03 75.55L540.73 69.85 M543.19 68.85L548.89 74.55M543.19 74.55L548.89 68.85 M551.35 68.05L557.05 73.75M551.35 73.75L557.05 68.05 M559.51 67.20L565.21 72.90M559.51 72.90L565.21 67.20 M567.67 66.55L573.37 72.25M567.67 72.25L573.37 66.55 M575.83 66.00L581.53 71.70M575.83 71.70L581.53 66.00 M583.99 64.95L589.69 70.65M583.99 70.65L589.69 64.95 M592.15 63.95L597.85 69.65M592.15 69.65L597.85 63.95" stroke="#f00" stroke-width="0.85" fill="none"/>
<g fill="none" stroke="#000" stroke-width="1.1" stroke-linecap="round" stroke-linejoin="round">
<path stroke-width="1.1" d="M218.50 1.42 L218.50 11.50 M218.50 1.42 L222.42 11.50 M226.34 1.42 L222.42 11.50 M226.34 1.42 L226.34 11.50"/>
<path stroke-width="1.25" d="M229.30 12.39 L229.30 20.05 M229.30 13.49 L230.03 12.76 L230.75 12.39 L231.84 12.39 L232.56 12.76 L233.29 13.49 L233.65 14.58 L233.65 15.31 L233.29 16.41 L232.56 17.14 L231.84 17.50 L230.75 17.50 L230.03 17.14 L229.30 16.41 M236.91 17.14 L236.55 17.50 L236.19 17.14 L236.55 16.77 L236.91 17.14 L236.91 17.86 L236.55 18.59 L236.19 18.96 M239.45 9.84 L239.82 10.20 L240.18 9.84 L239.82 9.47 L239.45 9.84 M239.82 12.39 L239.82 17.50 M242.72 12.39 L242.72 17.50 M242.72 13.85 L243.80 12.76 L244.53 12.39 L245.62 12.39 L246.34 12.76 L246.70 13.85 L246.70 17.50 M249.24 9.84 L249.61 10.20 L249.97 9.84 L249.61 9.47 L249.24 9.84 M249.61 12.39 L249.61 17.50 M252.87 9.84 L252.87 16.04 L253.23 17.14 L253.96 17.50 L254.68 17.50 M251.78 12.39 L254.32 12.39 M256.49 9.84 L256.86 10.20 L257.22 9.84 L256.86 9.47 L256.49 9.84 M256.86 12.39 L256.86 17.50 M263.75 12.39 L263.75 17.50 M263.75 13.49 L263.02 12.76 L262.30 12.39 L261.21 12.39 L260.48 12.76 L259.76 13.49 L259.40 14.58 L259.40 15.31 L259.76 16.41 L260.48 17.14 L261.21 17.50 L262.30 17.50 L263.02 17.14 L263.75 16.41 M266.65 9.84 L266.65 17.50"/>
<path stroke-width="1.1" d="M277.30 6.00 L286.12 6.00 M277.30 9.00 L286.12 9.00"/>
<path stroke-width="1.1" d="M298.60 3.34 L299.58 2.86 L301.05 1.42 L301.05 11.50 M307.42 1.42 L307.42 11.50 M307.42 1.42 L311.34 11.50 M315.26 1.42 L311.34 11.50 M315.26 1.42 L315.26 11.50"/>
<path stroke-width="1.25" d="M321.63 9.84 L321.63 15.68 L321.26 16.77 L320.90 17.14 L320.18 17.50 L319.45 17.50 L318.73 17.14 L318.36 16.77 L318.00 15.68 L318.00 14.95 M324.53 12.39 L324.53 16.04 L324.89 17.14 L325.61 17.50 L326.70 17.50 L327.43 17.14 L328.52 16.04 M328.52 12.39 L328.52 17.50 M331.42 12.39 L331.42 20.05 M331.42 13.49 L332.14 12.76 L332.87 12.39 L333.95 12.39 L334.68 12.76 L335.40 13.49 L335.77 14.58 L335.77 15.31 L335.40 16.41 L334.68 17.14 L333.95 17.50 L332.87 17.50 L332.14 17.14 L331.42 16.41"/>
<path stroke-width="1.1" d="M339.08 11.02 L338.59 11.50 L338.10 11.02 L338.59 10.54 L339.08 11.02 L339.08 11.98 L338.59 12.94 L338.10 13.42"/>
<path stroke-width="1.1" d="M356.48 4.78 L356.48 11.50 M356.48 6.22 L355.50 5.26 L354.52 4.78 L353.05 4.78 L352.07 5.26 L351.09 6.22 L350.60 7.66 L350.60 8.62 L351.09 10.06 L352.07 11.02 L353.05 11.50 L354.52 11.50 L355.50 11.02 L356.48 10.06"/>
<path stroke-width="1.25" d="M359.20 9.84 L359.56 10.20 L359.93 9.84 L359.56 9.47 L359.20 9.84 M359.56 12.39 L359.56 17.50 M362.46 12.39 L362.46 17.50 M362.46 13.85 L363.55 12.76 L364.28 12.39 L365.36 12.39 L366.09 12.76 L366.45 13.85 L366.45 17.50 M368.99 9.84 L369.35 10.20 L369.72 9.84 L369.35 9.47 L368.99 9.84 M369.35 12.39 L369.35 17.50 M372.62 9.84 L372.62 16.04 L372.98 17.14 L373.70 17.50 L374.43 17.50 M371.53 12.39 L374.07 12.39 M376.24 9.84 L376.60 10.20 L376.97 9.84 L376.60 9.47 L376.24 9.84 M376.60 12.39 L376.60 17.50 M383.49 12.39 L383.49 17.50 M383.49 13.49 L382.77 12.76 L382.04 12.39 L380.96 12.39 L380.23 12.76 L379.51 13.49 L379.14 14.58 L379.14 15.31 L379.51 16.41 L380.23 17.14 L380.96 17.50 L382.04 17.50 L382.77 17.14 L383.49 16.41 M386.39 9.84 L386.39 17.50"/>
<path stroke-width="1.1" d="M397.30 6.00 L406.12 6.00 M397.30 9.00 L406.12 9.00"/>
<path stroke-width="1.1" d="M422.68 1.42 L417.78 1.42 L417.29 5.74 L417.78 5.26 L419.25 4.78 L420.72 4.78 L422.19 5.26 L423.17 6.22 L423.66 7.66 L423.66 8.62 L423.17 10.06 L422.19 11.02 L420.72 11.50 L419.25 11.50 L417.78 11.02 L417.29 10.54 L416.80 9.58 M429.54 1.42 L425.62 11.50 M429.54 1.42 L433.46 11.50 M427.09 8.14 L431.99 8.14 M435.91 1.42 L435.91 8.62 L436.40 10.06 L437.38 11.02 L438.85 11.50 L439.83 11.50 L441.30 11.02 L442.28 10.06 L442.77 8.62 L442.77 1.42"/>
<path stroke-width="1.1" d="M290.77 457.47 L290.77 465.63 L291.26 467.07 L292.24 467.55 L293.22 467.55 M289.30 460.83 L292.73 460.83"/>
<path stroke-width="1.25" d="M297.40 465.89 L296.68 465.89 L295.95 466.25 L295.59 467.35 L295.59 473.55 M294.50 468.44 L297.04 468.44 M301.03 468.44 L300.30 468.81 L299.58 469.54 L299.21 470.63 L299.21 471.36 L299.58 472.46 L300.30 473.19 L301.03 473.55 L302.11 473.55 L302.84 473.19 L303.56 472.46 L303.93 471.36 L303.93 470.63 L303.56 469.54 L302.84 468.81 L302.11 468.44 L301.03 468.44 M306.47 468.44 L306.47 473.55 M306.47 470.63 L306.83 469.54 L307.55 468.81 L308.28 468.44 L309.37 468.44 M311.18 468.44 L311.18 473.55 M311.18 469.90 L312.27 468.81 L312.99 468.44 L314.08 468.44 L314.81 468.81 L315.17 469.90 L315.17 473.55 M315.17 469.90 L316.26 468.81 L316.98 468.44 L318.07 468.44 L318.79 468.81 L319.16 469.90 L319.16 473.55"/>
<path stroke-width="1.1" d="M338.12 455.55 L329.30 470.91"/>
<path stroke-width="1.1" d="M347.29 460.83 L350.23 467.55 M353.17 460.83 L350.23 467.55 L349.25 469.47 L348.27 470.43 L347.29 470.91 L346.80 470.91 M356.11 460.83 L356.11 467.55 M356.11 463.71 L356.60 462.27 L357.58 461.31 L358.56 460.83 L360.03 460.83"/>
<path stroke-width="1.1" d="M47.54 426.32 L46.07 426.80 L45.09 428.24 L44.60 430.64 L44.60 432.08 L45.09 434.48 L46.07 435.92 L47.54 436.40 L48.52 436.40 L49.99 435.92 L50.97 434.48 L51.46 432.08 L51.46 430.64 L50.97 428.24 L49.99 426.80 L48.52 426.32 L47.54 426.32"/>
<path stroke-width="1.1" d="M190.59 428.72 L190.59 428.24 L191.08 427.28 L191.57 426.80 L192.55 426.32 L194.51 426.32 L195.49 426.80 L195.98 427.28 L196.47 428.24 L196.47 429.20 L195.98 430.16 L195.00 431.60 L190.10 436.40 L196.96 436.40 M200.39 429.47 L207.25 436.19 M207.25 429.47 L200.39 436.19 M212.15 428.24 L213.13 427.76 L214.60 426.32 L214.60 436.40 M223.42 426.32 L221.95 426.80 L220.97 428.24 L220.48 430.64 L220.48 432.08 L220.97 434.48 L221.95 435.92 L223.42 436.40 L224.40 436.40 L225.87 435.92 L226.85 434.48 L227.34 432.08 L227.34 430.64 L226.85 428.24 L225.87 426.80 L224.40 426.32 L223.42 426.32"/>
<path stroke-width="1.15" d="M234.20 421.75 L233.81 421.01 L232.64 420.64 L231.85 420.64 L230.68 421.01 L229.89 422.13 L229.50 423.99 L229.50 425.85 L229.89 427.33 L230.68 428.08 L231.85 428.45 L232.24 428.45 L233.42 428.08 L234.20 427.33 L234.60 426.22 L234.60 425.85 L234.20 424.73 L233.42 423.99 L232.24 423.61 L231.85 423.61 L230.68 423.99 L229.89 424.73 L229.50 425.85"/>
<path stroke-width="1.1" d="M358.26 426.32 L353.36 433.04 L360.71 433.04 M358.26 426.32 L358.26 436.40 M363.65 429.47 L370.51 436.19 M370.51 429.47 L363.65 436.19 M375.41 428.24 L376.39 427.76 L377.86 426.32 L377.86 436.40 M386.68 426.32 L385.21 426.80 L384.23 428.24 L383.74 430.64 L383.74 432.08 L384.23 434.48 L385.21 435.92 L386.68 436.40 L387.66 436.40 L389.13 435.92 L390.11 434.48 L390.60 432.08 L390.60 430.64 L390.11 428.24 L389.13 426.80 L387.66 426.32 L386.68 426.32"/>
<path stroke-width="1.15" d="M397.46 421.75 L397.07 421.01 L395.90 420.64 L395.11 420.64 L393.94 421.01 L393.15 422.13 L392.76 423.99 L392.76 425.85 L393.15 427.33 L393.94 428.08 L395.11 428.45 L395.50 428.45 L396.68 428.08 L397.46 427.33 L397.86 426.22 L397.86 425.85 L397.46 424.73 L396.68 423.99 L395.50 423.61 L395.11 423.61 L393.94 423.99 L393.15 424.73 L392.76 425.85"/>
<path stroke-width="1.1" d="M522.99 427.76 L522.50 426.80 L521.03 426.32 L520.05 426.32 L518.58 426.80 L517.60 428.24 L517.11 430.64 L517.11 433.04 L517.60 434.96 L518.58 435.92 L520.05 436.40 L520.54 436.40 L522.01 435.92 L522.99 434.96 L523.48 433.52 L523.48 433.04 L522.99 431.60 L522.01 430.64 L520.54 430.16 L520.05 430.16 L518.58 430.64 L517.60 431.60 L517.11 433.04 M526.91 429.47 L533.77 436.19 M533.77 429.47 L526.91 436.19 M538.67 428.24 L539.65 427.76 L541.12 426.32 L541.12 436.40 M549.94 426.32 L548.47 426.80 L547.49 428.24 L547.00 430.64 L547.00 432.08 L547.49 434.48 L548.47 435.92 L549.94 436.40 L550.92 436.40 L552.39 435.92 L553.37 434.48 L553.86 432.08 L553.86 430.64 L553.37 428.24 L552.39 426.80 L550.92 426.32 L549.94 426.32"/>
<path stroke-width="1.15" d="M560.72 421.75 L560.33 421.01 L559.16 420.64 L558.37 420.64 L557.20 421.01 L556.41 422.13 L556.02 423.99 L556.02 425.85 L556.41 427.33 L557.20 428.08 L558.37 428.45 L558.76 428.45 L559.94 428.08 L560.72 427.33 L561.12 426.22 L561.12 425.85 L560.72 424.73 L559.94 423.99 L558.76 423.61 L558.37 423.61 L557.20 423.99 L556.41 424.73 L556.02 425.85"/>
<path stroke-width="1.1" transform="translate(37.65 401.09) rotate(-90)" d="M4.46 -10.44 L2.97 -9.94 L1.98 -8.45 L1.49 -5.96 L1.49 -4.47 L1.98 -1.99 L2.97 -0.50 L4.46 0.00 L5.45 0.00 L6.93 -0.50 L7.92 -1.99 L8.41 -4.47 L8.41 -5.96 L7.92 -8.45 L6.93 -9.94 L5.45 -10.44 L4.46 -10.44 M12.38 -0.99 L11.88 -0.50 L12.38 0.00 L12.87 -0.50 L12.38 -0.99 M16.83 -7.95 L16.83 -8.45 L17.32 -9.44 L17.82 -9.94 L18.81 -10.44 L20.79 -10.44 L21.78 -9.94 L22.28 -9.44 L22.77 -8.45 L22.77 -7.46 L22.28 -6.46 L21.29 -4.97 L16.34 0.00 L23.27 0.00"/>
<path stroke-width="1.1" transform="translate(37.65 309.36) rotate(-90)" d="M4.46 -10.44 L2.97 -9.94 L1.98 -8.45 L1.49 -5.96 L1.49 -4.47 L1.98 -1.99 L2.97 -0.50 L4.46 0.00 L5.45 0.00 L6.93 -0.50 L7.92 -1.99 L8.41 -4.47 L8.41 -5.96 L7.92 -8.45 L6.93 -9.94 L5.45 -10.44 L4.46 -10.44 M12.38 -0.99 L11.88 -0.50 L12.38 0.00 L12.87 -0.50 L12.38 -0.99 M22.28 -10.44 L17.32 -10.44 L16.83 -5.96 L17.32 -6.46 L18.81 -6.96 L20.30 -6.96 L21.78 -6.46 L22.77 -5.47 L23.27 -3.98 L23.27 -2.98 L22.77 -1.49 L21.78 -0.50 L20.30 0.00 L18.81 0.00 L17.32 -0.50 L16.83 -0.99 L16.34 -1.99"/>
<path stroke-width="1.1" transform="translate(37.65 231.81) rotate(-90)" d="M2.97 -8.45 L3.96 -8.95 L5.45 -10.44 L5.45 0.00"/>
<path stroke-width="1.1" transform="translate(37.65 163.16) rotate(-90)" d="M1.98 -7.95 L1.98 -8.45 L2.48 -9.44 L2.97 -9.94 L3.96 -10.44 L5.94 -10.44 L6.93 -9.94 L7.43 -9.44 L7.92 -8.45 L7.92 -7.46 L7.43 -6.46 L6.44 -4.97 L1.49 0.00 L8.41 0.00"/>
<path stroke-width="1.1" transform="translate(37.65 71.44) rotate(-90)" d="M7.43 -10.44 L2.48 -10.44 L1.98 -5.96 L2.48 -6.46 L3.96 -6.96 L5.45 -6.96 L6.93 -6.46 L7.92 -5.47 L8.41 -3.98 L8.41 -2.98 L7.92 -1.49 L6.93 -0.50 L5.45 0.00 L3.96 0.00 L2.48 -0.50 L1.98 -0.99 L1.49 -1.99"/>
<path stroke-width="1.1" transform="translate(14.00 265.80) rotate(-90)" d="M5.88 -6.72 L5.88 0.00 M5.88 -5.28 L4.90 -6.24 L3.92 -6.72 L2.45 -6.72 L1.47 -6.24 L0.49 -5.28 L0.00 -3.84 L0.00 -2.88 L0.49 -1.44 L1.47 -0.48 L2.45 0.00 L3.92 0.00 L4.90 -0.48 L5.88 -1.44"/>
<path stroke-width="1.25" transform="translate(14.00 257.00) rotate(-90)" d="M2.90 -1.96 L2.18 -1.96 L1.45 -1.60 L1.09 -0.50 L1.09 5.70 M0.00 0.59 L2.54 0.59 M4.71 -1.96 L5.08 -1.60 L5.44 -1.96 L5.08 -2.33 L4.71 -1.96 M5.08 0.59 L5.08 5.70 M7.98 0.59 L7.98 5.70 M7.98 2.05 L9.06 0.96 L9.79 0.59 L10.88 0.59 L11.60 0.96 L11.97 2.05 L11.97 5.70 M18.86 0.59 L18.86 5.70 M18.86 1.69 L18.13 0.96 L17.40 0.59 L16.32 0.59 L15.59 0.96 L14.87 1.69 L14.50 2.78 L14.50 3.51 L14.87 4.61 L15.59 5.34 L16.32 5.70 L17.40 5.70 L18.13 5.34 L18.86 4.61 M21.76 -1.96 L21.76 5.70"/>
<path stroke-width="1.1" transform="translate(14.00 225.00) rotate(-90)" d="M8.82 -12.00 L0.00 3.36"/>
<path stroke-width="1.1" transform="translate(14.00 207.50) rotate(-90)" d="M3.92 -10.08 L0.00 0.00 M3.92 -10.08 L7.84 0.00 M1.47 -3.36 L6.37 -3.36 M10.29 -10.08 L10.29 -2.88 L10.78 -1.44 L11.76 -0.48 L13.23 0.00 L14.21 0.00 L15.68 -0.48 L16.66 -1.44 L17.15 -2.88 L17.15 -10.08"/>
</g>
<g class="t">
<text x="218" y="12">M<tspan dy="6" font-size="10.5">p,initial</tspan><tspan dy="-6"> = 1M</tspan><tspan dy="6" font-size="10.5">Jup</tspan><tspan dy="-6">, a</tspan><tspan dy="6" font-size="10.5">initial</tspan><tspan dy="-6"> = 5AU</tspan></text>
<text x="289" y="467">t<tspan dy="6" font-size="10.5">form</tspan><tspan dy="-6"> / yr</tspan></text>
<text transform="translate(14 266) rotate(-90)">a<tspan dy="6" font-size="10.5">final</tspan><tspan dy="-6"> / AU</tspan></text>
<text x="44" y="436">0</text>
<text x="190.0" y="436">2×10<tspan dy="-8" font-size="10.5">6</tspan></text>
<text x="353.3" y="436">4×10<tspan dy="-8" font-size="10.5">6</tspan></text>
<text x="516.5" y="436">6×10<tspan dy="-8" font-size="10.5">6</tspan></text>
<text text-anchor="middle" transform="translate(37.6 388.6) rotate(-90)">0.2</text>
<text text-anchor="middle" transform="translate(37.6 296.9) rotate(-90)">0.5</text>
<text text-anchor="middle" transform="translate(37.6 227.5) rotate(-90)">1</text>
<text text-anchor="middle" transform="translate(37.6 158.1) rotate(-90)">2</text>
<text text-anchor="middle" transform="translate(37.6 66.4) rotate(-90)">5</text>
</g>
</svg></body></html>
